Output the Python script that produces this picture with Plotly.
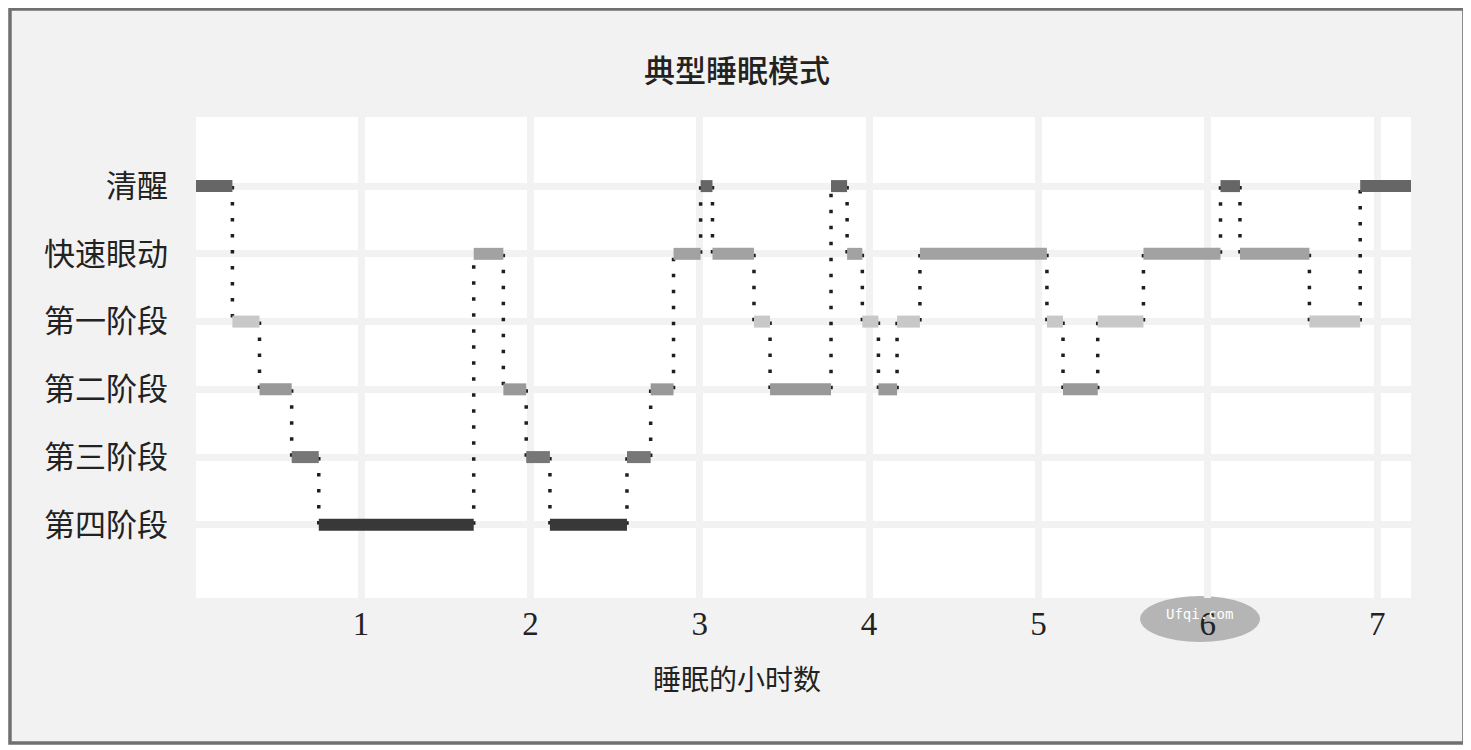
import plotly.graph_objects as go

# sleep stages, top to bottom on the chart
stages = ["清醒", "快速眼动", "第一阶段", "第二阶段", "第三阶段", "第四阶段"]
stage_colors = ["#666666", "#a2a2a2", "#c8c8c8", "#999999", "#777777", "#383838"]

# stage in each period of the night, in order
sequence = [
    "清醒", "第一阶段", "第二阶段", "第三阶段", "第四阶段", "快速眼动",
    "第二阶段", "第三阶段", "第四阶段", "第三阶段", "第二阶段", "快速眼动",
    "清醒", "快速眼动", "第一阶段", "第二阶段", "清醒", "快速眼动",
    "第一阶段", "第二阶段", "第一阶段", "快速眼动", "第一阶段", "第二阶段",
    "第一阶段", "快速眼动", "清醒", "快速眼动", "第一阶段", "清醒",
]
# hours at which the stage changes (start, changes..., end)
change_times = [
    0.025, 0.24, 0.40, 0.59, 0.75, 1.665, 1.84, 1.975, 2.115, 2.57, 2.71,
    2.845, 3.005, 3.075, 3.32, 3.415, 3.775, 3.87, 3.96, 4.055, 4.165,
    4.30, 5.05, 5.145, 5.35, 5.62, 6.075, 6.19, 6.60, 6.90, 7.20,
]
hour_ticks = [1, 2, 3, 4, 5, 6, 7]

level = {s: len(stages) - 1 - i for i, s in enumerate(stages)}

fig = go.Figure()

# dotted transitions
tx, ty = [], []
for i in range(1, len(sequence)):
    t = change_times[i]
    tx += [t, t, None]
    ty += [level[sequence[i - 1]], level[sequence[i]], None]
fig.add_trace(go.Scatter(
    x=tx, y=ty, mode="lines", hoverinfo="skip", showlegend=False,
    line=dict(color="#1e1e1e", width=3.5, dash="3.5px,12.5px"),
))

# one trace per stage, segments separated by None
for s, c in zip(stages, stage_colors):
    xs, ys = [], []
    for i, st in enumerate(sequence):
        if st == s:
            xs += [change_times[i], change_times[i + 1], None]
            ys += [level[s], level[s], None]
    fig.add_trace(go.Scatter(
        x=xs, y=ys, mode="lines", name=s, showlegend=False,
        line=dict(color=c, width=12),
    ))

# page has an 8px body margin, so the figure is 8px smaller
fig.update_layout(
    width=1463, height=742,
    margin=dict(l=188, r=60, t=109, b=152),
    paper_bgcolor="white",
    plot_bgcolor="white",
    shapes=[
        # grey frame around the whole chart
        dict(type="rect", xref="paper", yref="paper", layer="below",
             x0=-0.1531, x1=1.0436, y0=-0.3015, y1=1.2245,
             fillcolor="#f2f2f2", line=dict(color="#707070", width=3.5)),
        dict(type="rect", xref="paper", yref="paper", layer="below",
             x0=0, x1=1, y0=0, y1=1, fillcolor="white", line_width=0),
        # watermark oval
        dict(type="circle", xref="paper", yref="paper", layer="below",
             x0=0.777, x1=0.8757, y0=-0.0915, y1=0.004,
             fillcolor="#b5b5b5", line_width=0),
    ],
    annotations=[
        dict(text="典型睡眠模式", xref="paper", yref="paper", x=0.445, y=1.1,
             xanchor="center", yanchor="middle", showarrow=False,
             font=dict(family="Noto Sans CJK SC", size=31, color="#222222", weight=500)),
        dict(text="睡眠的小时数", xref="paper", yref="paper", x=0.445, y=-0.1705,
             xanchor="center", yanchor="middle", showarrow=False,
             font=dict(family="Liberation Serif, Noto Sans CJK SC", size=28, color="#222222")),
        dict(text="Ufqi.com", xref="paper", yref="paper", x=0.8263, y=-0.033,
             xanchor="center", yanchor="middle", showarrow=False,
             font=dict(family="DejaVu Sans Mono", size=14, color="white")),
    ],
)

fig.update_xaxes(
    range=[0.025, 7.2], tickvals=hour_ticks, ticks="", showline=False,
    zeroline=False, showgrid=True, gridcolor="#f2f2f2", gridwidth=7,
    tickfont=dict(family="Liberation Serif", size=33, color="#222222"),
    ticklabelstandoff=3,
)
fig.update_yaxes(
    range=[-1.08, 6.02], tickvals=[level[s] for s in stages], ticktext=stages,
    ticks="", showline=False, zeroline=False, showgrid=True,
    gridcolor="#f2f2f2", gridwidth=7,
    tickfont=dict(family="Liberation Serif, Noto Sans CJK SC", size=31, color="#222222"),
    ticklabelstandoff=27,
)

fig.write_html("out.html")
